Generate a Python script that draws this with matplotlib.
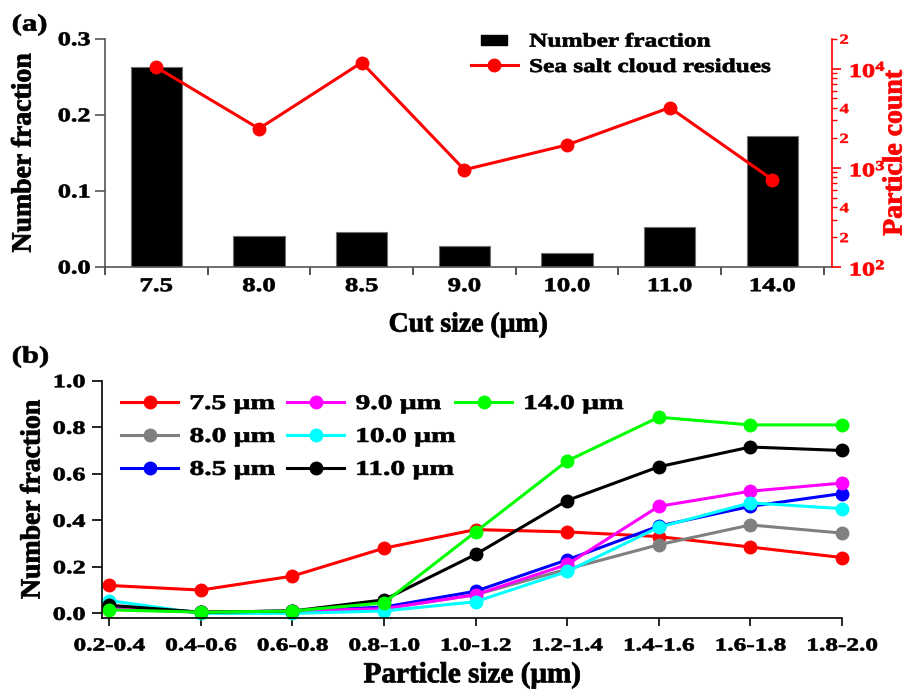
import math
import numpy as np
import matplotlib
matplotlib.use('Agg')
import matplotlib.pyplot as plt
from matplotlib.patheffects import AbstractPathEffect
from matplotlib.transforms import Affine2D
from matplotlib.lines import Line2D
from matplotlib.path import Path
from matplotlib.legend import Legend
from matplotlib.ticker import LogLocator, FuncFormatter

# ---------------- data ----------------
cut_sizes = ['7.5', '8.0', '8.5', '9.0', '10.0', '11.0', '14.0']
number_fraction = [0.263, 0.041, 0.046, 0.028, 0.019, 0.053, 0.172]
particle_count = [10300, 2480, 11500, 955, 1700, 4040, 760]

size_bins = ['0.2-0.4', '0.4-0.6', '0.6-0.8', '0.8-1.0', '1.0-1.2',
             '1.2-1.4', '1.4-1.6', '1.6-1.8', '1.8-2.0']
frac_7_5 = [0.12, 0.10, 0.16, 0.28, 0.36, 0.35, 0.33, 0.285, 0.24]
frac_8_0 = [0.03, 0.005, 0.01, 0.02, 0.08, 0.19, 0.295, 0.38, 0.345]
frac_8_5 = [0.03, 0.005, 0.01, 0.027, 0.095, 0.23, 0.375, 0.46, 0.515]
frac_9_0 = [0.02, 0.005, 0.01, 0.02, 0.08, 0.21, 0.46, 0.525, 0.56]
frac_10_0 = [0.055, 0.0, 0.0, 0.01, 0.05, 0.18, 0.37, 0.475, 0.45]
frac_11_0 = [0.035, 0.005, 0.01, 0.058, 0.253, 0.485, 0.63, 0.715, 0.70]
frac_14_0 = [0.015, 0.005, 0.01, 0.045, 0.35, 0.655, 0.843, 0.81, 0.81]

series_labels = ['7.5 \u03bcm', '8.0 \u03bcm', '8.5 \u03bcm', '9.0 \u03bcm',
                 '10.0 \u03bcm', '11.0 \u03bcm', '14.0 \u03bcm']
series_colors = ['#ff0000', '#808080', '#0000ff', '#ff00ff', '#00ffff', '#000000', '#00ff00']

# ---------------- style ----------------
plt.rcParams.update({
    'font.family': ['Liberation Serif', 'DejaVu Serif'],
    'font.weight': 'bold',
    'axes.labelweight': 'bold',
    'mathtext.fontset': 'custom',
    'mathtext.rm': 'Liberation Serif:bold',
    'mathtext.bf': 'Liberation Serif:bold',
    'mathtext.it': 'Liberation Serif:bold:italic',
    'mathtext.default': 'rm',
})


class Stretch(AbstractPathEffect):
    """Widen (and slightly embolden) glyphs like the reference's heavy wide text."""

    def __init__(self, sx=1.4, align='center', bold=0.5):
        super().__init__()
        self._sx = sx
        self._align = align
        self._bold = bold

    def draw_path(self, renderer, gc, tpath, affine, rgbFace=None):
        ext = tpath.get_extents()
        if self._align == 'left':
            cx = ext.x0
        elif self._align == 'right':
            cx = ext.x1
        else:
            cx = 0.5 * (ext.x0 + ext.x1)
        pre = Affine2D().translate(-cx, 0).scale(self._sx, 1.0).translate(cx, 0)
        gc0 = renderer.new_gc()
        gc0.copy_properties(gc)
        if self._bold > 0 and rgbFace is not None:
            gc0.set_linewidth(self._bold)
            gc0.set_foreground(rgbFace)
            gc0.set_joinstyle('round')
        renderer.draw_path(gc0, tpath, pre + affine, rgbFace)
        gc0.restore()


def stretch(texts, sx, align, bold=0.5):
    for t in texts:
        t.set_path_effects([Stretch(sx, align, bold)])


W, H = 908, 693
fig = plt.figure(figsize=(W / 100, H / 100), dpi=100)


def fx(px):
    return px / W


def fy(py):
    return 1 - py / H


def axes_rect(l, t, r, b):
    return [fx(l), fy(b), fx(r) - fx(l), fy(t) - fy(b)]


# ================= panel (a) =================
axA = fig.add_axes(axes_rect(105, 38.7, 832, 267))
xa = np.arange(len(cut_sizes))
axA.bar(xa, number_fraction, width=0.5, color='black', edgecolor='#707070',
        linewidth=0.8, zorder=2)
axA.set_xlim(-0.5, 6.58)
axA.set_ylim(0, 0.3)
axA.set_xticks(xa)
axA.set_xticklabels(cut_sizes)
axA.set_xticks(np.arange(-0.5, 7.0, 1.0), minor=True)
axA.set_yticks([0.0, 0.1, 0.2, 0.3])
axA.set_yticklabels(['0.0', '0.1', '0.2', '0.3'])
axA.tick_params(axis='x', which='major', length=0, pad=8, labelsize=14)
axA.tick_params(axis='x', which='minor', length=6, width=1.2, direction='out',
                color='#333333')
axA.tick_params(axis='y', which='major', length=7, width=1.2, direction='out',
                pad=3.5, labelsize=14, color='#555555')
for s in ['top', 'right']:
    axA.spines[s].set_visible(False)
for s in ['left', 'bottom']:
    axA.spines[s].set_color('#555555')
    axA.spines[s].set_linewidth(1.2)
axA.set_xlabel('Cut size (\u03bcm)', fontsize=20)
axA.xaxis.set_label_coords(0.5, (267 - 325) / (267 - 38.7))
axA.xaxis.label.set_va('center')
axA.set_ylabel('Number fraction', fontsize=20, va='center', ha='center')
axA.yaxis.set_label_coords((24 - 105) / (832 - 105), 0.5)

axB = axA.twinx()
axB.set_yscale('log')
line_a, = axB.plot(xa, particle_count, '-o', color='red', lw=2.2, ms=9, zorder=3)
axB.set_ylim(100, 20000)
axB.set_xlim(-0.5, 6.58)
axB.yaxis.set_major_locator(LogLocator(base=10, numticks=10))
axB.yaxis.set_minor_locator(LogLocator(base=10, subs=np.arange(2, 10), numticks=20))


def major_fmt(v, pos):
    e = int(round(math.log10(v)))
    return '$\\mathrm{10^{%d}}$' % e


def minor_fmt(v, pos):
    e = math.floor(math.log10(v) + 1e-9)
    m = int(round(v / 10 ** e))
    return str(m) if m in (2, 4) else ''


axB.yaxis.set_major_formatter(FuncFormatter(major_fmt))
axB.yaxis.set_minor_formatter(FuncFormatter(minor_fmt))
axB.tick_params(axis='y', which='major', length=6.5, width=1.2, colors='red',
                labelsize=14, pad=6)
axB.tick_params(axis='y', which='minor', length=3.5, width=1.0, colors='red',
                labelsize=10, pad=2)
for s in ['top', 'left', 'bottom']:
    axB.spines[s].set_visible(False)
axB.spines['right'].set_color('red')
axB.spines['right'].set_linewidth(1.2)
axB.set_ylabel('Particle count', fontsize=20, color='red', rotation=90,
               va='center', ha='center')
axB.yaxis.set_label_coords((895 - 105) / (832 - 105), 0.5)

rect_marker = Path([(-1, -0.4), (1, -0.4), (1, 0.4), (-1, 0.4), (-1, -0.4)],
                   [Path.MOVETO, Path.LINETO, Path.LINETO, Path.LINETO, Path.CLOSEPOLY])
bar_proxy = Line2D([], [], ls='none', marker=rect_marker, ms=19, color='black')
legA = axB.legend([bar_proxy, line_a], ['Number fraction', 'Sea salt cloud residues'],
                  loc='upper left', bbox_to_anchor=(fx(471), fy(33)),
                  bbox_transform=fig.transFigure, frameon=False, borderpad=0,
                  borderaxespad=0, handlelength=2.4, handletextpad=0.6,
                  labelspacing=0.4, fontsize=14)

fig.text(fx(12), fy(25), '(a)', fontsize=17, fontweight='bold', ha='left', va='center')

# ================= panel (b) =================
axC = fig.add_axes(axes_rect(102, 380.7, 842, 618))
xb = np.arange(len(size_bins))
series = [frac_7_5, frac_8_0, frac_8_5, frac_9_0, frac_10_0, frac_11_0, frac_14_0]
lines_b = []
for vals, col, lab in zip(series, series_colors, series_labels):
    ln, = axC.plot(xb, vals, '-o', color=col, lw=2.2, ms=9, label=lab, clip_on=False)
    lines_b.append(ln)
axC.set_xlim(-0.077, 8)
axC.set_ylim(-0.02, 1.0)
axC.set_xticks(xb)
axC.set_xticklabels(size_bins)
axC.set_yticks([0.0, 0.2, 0.4, 0.6, 0.8, 1.0])
axC.set_yticklabels(['0.0', '0.2', '0.4', '0.6', '0.8', '1.0'])
axC.tick_params(axis='x', length=6, width=1.2, direction='out', pad=8, labelsize=13)
axC.tick_params(axis='y', length=7, width=1.2, direction='out', pad=5, labelsize=13.5)
for s in ['top', 'right']:
    axC.spines[s].set_visible(False)
for s in ['left', 'bottom']:
    axC.spines[s].set_linewidth(1.2)
axC.set_xlabel('Particle size (\u03bcm)', fontsize=21)
axC.xaxis.set_label_coords(0.5, (618 - 675) / (618 - 380.7))
axC.xaxis.label.set_va('center')
axC.set_ylabel('Number fraction', fontsize=20, va='center', ha='center')
axC.yaxis.set_label_coords((33 - 102) / (842 - 102), 0.5)

legs_b = []
for idx, xpx in [((0, 1, 2), 121), ((3, 4, 5), 287), ((6,), 455)]:
    leg = Legend(axC, [lines_b[i] for i in idx], [series_labels[i] for i in idx],
                 loc='upper left', bbox_to_anchor=(fx(xpx), fy(394)),
                 bbox_transform=fig.transFigure, frameon=False, borderpad=0,
                 borderaxespad=0, handlelength=2.75, handletextpad=0.55,
                 labelspacing=0.62, fontsize=15, numpoints=1)
    axC.add_artist(leg)
    legs_b.append(leg)

fig.text(fx(12), fy(357), '(b)', fontsize=17, fontweight='bold', ha='left', va='center')

# ---------------- widen text like the reference ----------------
stretch(axA.get_xticklabels(), 1.38, 'center')
stretch(axA.get_yticklabels(), 1.35, 'right')
stretch(axB.get_yticklabels(), 1.35, 'left')
stretch(axB.get_yticklabels(minor=True), 1.35, 'left', 0.3)
stretch(axC.get_xticklabels(), 1.4, 'center')
stretch(axC.get_yticklabels(), 1.4, 'right')
stretch(legA.get_texts(), 1.3, 'left')
for leg in legs_b:
    stretch(leg.get_texts(), 1.42, 'left')
stretch([t for t in fig.texts], 1.3, 'left')
for lab in [axA.xaxis.label, axC.xaxis.label]:
    stretch([lab], 1.0, 'center', 0.6)
for lab in [axA.yaxis.label, axB.yaxis.label, axC.yaxis.label]:
    stretch([lab], 1.0, 'center', 0.6)

fig.savefig('out.png', dpi=100)
